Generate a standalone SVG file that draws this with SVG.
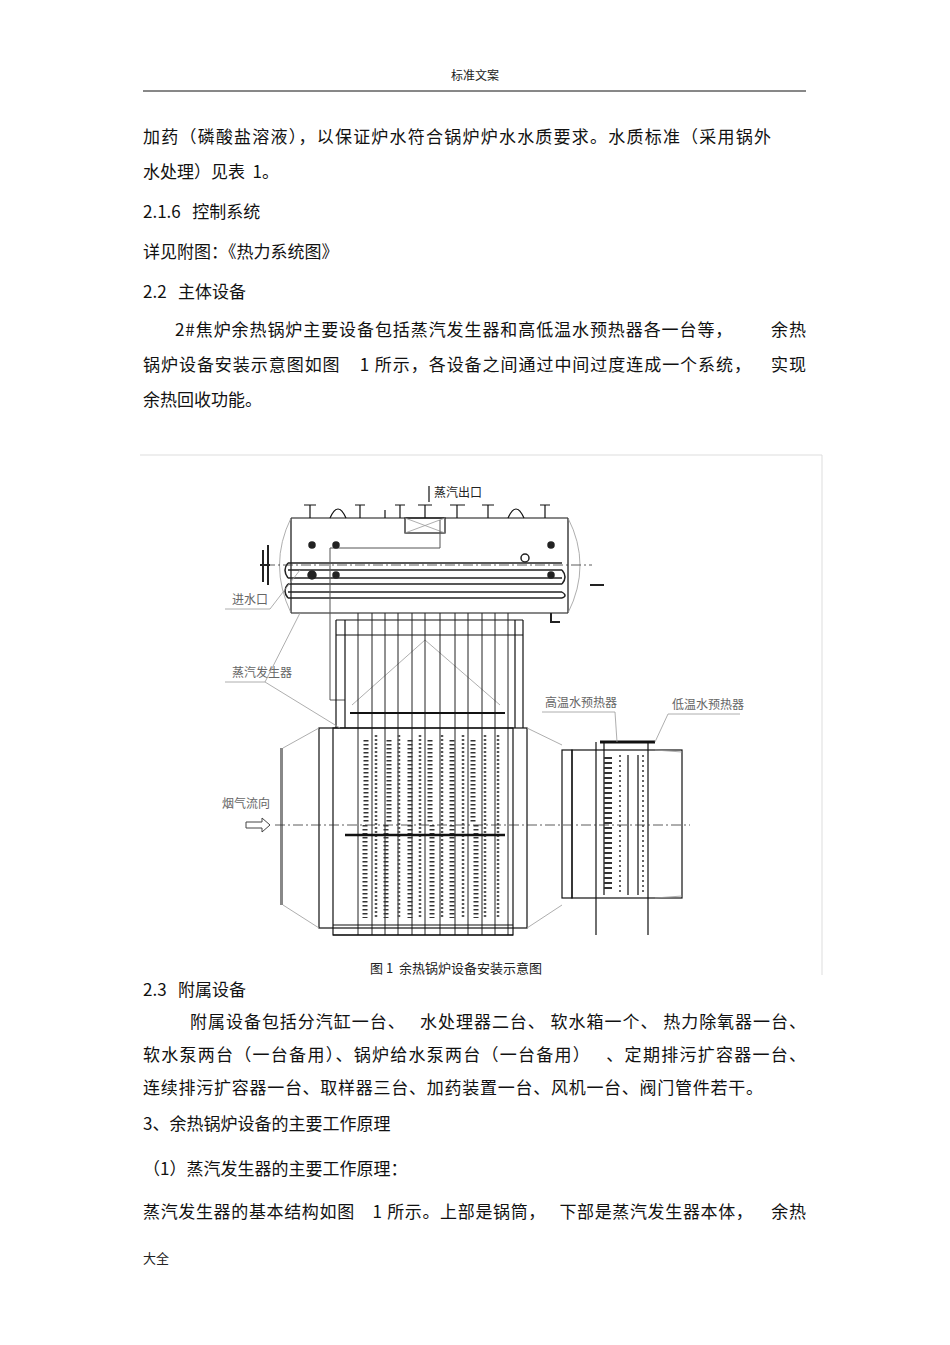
<svg xmlns="http://www.w3.org/2000/svg" width="950" height="1345" viewBox="0 0 950 1345" xml:space="preserve">
<style>
.t{font-family:"Noto Sans CJK SC","Liberation Sans",sans-serif;font-size:17px;fill:#111;white-space:pre}
.s{font-family:"Noto Sans CJK SC",sans-serif;fill:#222;white-space:pre}
.l{font-family:"Noto Sans CJK SC",sans-serif;font-size:12px;fill:#666}
.k{stroke:#111;fill:none;stroke-width:1.2}
.g{stroke:#999;fill:none;stroke-width:0.8}
.c{stroke:#333;fill:none;stroke-width:0.8;stroke-dasharray:10 3 2 3}
.tb{stroke:#222;fill:none;stroke-width:1.5}
.coil{stroke:#333;fill:none;stroke-width:5;stroke-dasharray:1.5 2.5}
</style>
<rect width="950" height="1345" fill="#fff"/>
<g id="header">
<text class="s" x="475" y="80" font-size="12" text-anchor="middle">标准文案</text>
<line x1="143" y1="91" x2="806" y2="91" stroke="#111" stroke-width="1"/>
</g>
<g id="body-top">
<text class="t" x="143" y="143" textLength="628" lengthAdjust="spacing">加药（磷酸盐溶液），以保证炉水符合锅炉炉水水质要求。水质标准（采用锅外</text>
<text class="t" x="143" y="178">水处理）见表  1。</text>
<text class="t" x="143" y="218">2.1.6   控制系统</text>
<text class="t" x="143" y="258">详见附图：《热力系统图》</text>
<text class="t" x="143" y="298">2.2   主体设备</text>
<text class="t" x="175" y="336" textLength="631" lengthAdjust="spacing">2#焦炉余热锅炉主要设备包括蒸汽发生器和高低温水预热器各一台等，        余热</text>
<text class="t" x="143" y="371" textLength="663" lengthAdjust="spacing">锅炉设备安装示意图如图    1 所示，各设备之间通过中间过度连成一个系统，    实现</text>
<text class="t" x="143" y="406">余热回收功能。</text>
</g>
<g id="frame">
<path d="M140 455 H822 V975" stroke="#ddd" fill="none"/>
</g>
<g id="drum">
<path class="k" d="M291 518 H568 M291 613 H568 M291 518 V613 M568 518 V613"/>
<path class="g" d="M291 518 Q268 565 291 613 M568 518 Q592 565 568 613"/>
<rect class="k" x="405" y="518" width="40" height="15"/>
<path class="g" d="M405 518 L445 533 M445 518 L405 533"/>
<g class="k">
<path d="M310 518 V505 M304 505 H316 M330 518 Q338 500 346 518 M360 518 V505 M355 505 H365 M385 518 V510 M400 518 V505 M395 505 H405 M425 518 V505 M418 505 H432 M457 518 V505 M450 505 H465 M488 518 V505 M482 505 H494 M508 518 Q516 500 524 518 M545 518 V505 M540 505 H550"/>
</g>
<path d="M429 502 V486" stroke="#111" stroke-width="1.2"/>
<text class="s" x="434" y="497" font-size="12">蒸汽出口</text>
<g class="tb">
<path d="M288 563 H562 M288 570 H562 M288 578 H562 M288 584 H562 M288 592 H562 M288 598 H562"/>
<path d="M288 563 Q282 570 288 578 M288 584 Q282 591 288 598 M562 570 Q568 577 562 584 M562 592 Q568 596 562 598"/>
</g>
<path d="M440 520 V548 M440 548 H330 M330 548 V700 M330 700 H345" stroke="#555" fill="none"/>
<path class="c" d="M265 565 H592"/>
<g stroke="#222" stroke-width="1.5">
<circle cx="312" cy="545" r="3" fill="#222"/><circle cx="336" cy="545" r="3" fill="#222"/>
<circle cx="312" cy="575" r="4" fill="#222"/><circle cx="336" cy="575" r="3" fill="#222"/>
<circle cx="551" cy="545" r="3" fill="#222"/><circle cx="551" cy="575" r="3" fill="#222"/>
<circle cx="525" cy="558" r="4" fill="none"/>
</g>
<path d="M263 550 V582 M268 545 V585 M260 565 H270 M590 585 H604 M551 613 V622 H560" stroke="#222" stroke-width="2" fill="none"/>
</g>
<g id="riser">
<path class="k" d="M336 620 V728 M345 620 V728 M515 620 V728 M523 620 V728 M336 620 H523 M336 635 H523"/>
<path class="g" d="M352 705 L425 640 L500 705"/>
<g stroke="#222" stroke-width="1">
<path d="M358 613 V935 M372 613 V935 M385 613 V935 M398 613 V935 M412 613 V935 M425 613 V935 M440 613 V935 M455 613 V935 M468 613 V935 M482 613 V935 M495 613 V935 M508 613 V935"/>
</g>
<path d="M350 713 H505" stroke="#111" stroke-width="2"/>
</g>
<g id="generator">
<rect class="k" x="319" y="728" width="208" height="200"/>
<rect class="k" x="333" y="728" width="180" height="207"/>
<path class="k" d="M333 925 H513 M333 935 H513"/>
<path class="g" d="M319 728 L283 748 M319 928 L283 905"/>
<rect x="280" y="748" width="3" height="157" fill="#888"/>
<path class="g" d="M527 728 L562 745 M527 928 L562 905"/>
<g class="coil">
<path d="M366 740 V822 M389 740 V822 M410 740 V822 M430 740 V822 M452 740 V822 M473 740 V822 M365 825 V918 M386 825 V918 M410 825 V918 M432 825 V918 M452 825 V918 M476 825 V918"/>
</g>
<g stroke="#555" stroke-width="2.5" stroke-dasharray="2 2">
<path d="M376 735 V918 M399 735 V918 M420 735 V918 M442 735 V918 M463 735 V918 M485 735 V918 M498 735 V918"/>
</g>
<path d="M345 835 H505" stroke="#111" stroke-width="2.5"/>
</g>
<g id="preheater">
<rect class="k" x="562" y="750" width="10" height="148"/>
<rect class="k" x="572" y="750" width="110" height="148"/>
<path class="g" d="M655 750 L682 752 M655 898 L682 896"/>
<path d="M600 742 H655" stroke="#111" stroke-width="3"/>
<g class="k"><path d="M596 742 V935 M604 742 V895 M628 755 V895 M638 755 V895 M648 742 V935"/></g>
<path d="M608 757 V892" stroke="#333" stroke-width="8" stroke-dasharray="2 3" fill="none"/>
<g stroke="#333" stroke-width="1.5" stroke-dasharray="2 3"><path d="M620 755 V892 M643 755 V892"/></g>
</g>
<g id="centerline"><path class="c" d="M275 825 H690"/></g>
<g id="labels">
<text class="l" x="232" y="604">进水口</text>
<path class="g" d="M225 609 H270 L300 570"/>
<text class="l" x="232" y="677">蒸汽发生器</text>
<path class="g" d="M225 682 H265 L300 613 M265 682 L340 728"/>
<text class="l" x="222" y="808">烟气流向</text>
<path d="M246 822 H262 V818 L270 825 L262 832 V828 H246 Z" fill="none" stroke="#444"/>
<text class="l" x="545" y="707">高温水预热器</text>
<path class="g" d="M542 712 H615 L617 742"/>
<text class="l" x="672" y="709">低温水预热器</text>
<path class="g" d="M668 714 H740 M668 714 L655 742"/>
<text class="s" x="370" y="973" font-size="13">图 1  余热锅炉设备安装示意图</text>
</g>
<g id="body-bottom">
<text class="t" x="143" y="996">2.3   附属设备</text>
<text class="t" x="190" y="1028" textLength="616" lengthAdjust="spacing">附属设备包括分汽缸一台、   水处理器二台、 软水箱一个、 热力除氧器一台、</text>
<text class="t" x="143" y="1061" textLength="663" lengthAdjust="spacing">软水泵两台（一台备用）、锅炉给水泵两台（一台备用）   、定期排污扩容器一台、</text>
<text class="t" x="143" y="1094" textLength="620" lengthAdjust="spacing">连续排污扩容器一台、取样器三台、加药装置一台、风机一台、阀门管件若干。</text>
<text class="t" x="143" y="1130">3、余热锅炉设备的主要工作原理</text>
<text class="t" x="143" y="1175">（1）蒸汽发生器的主要工作原理：</text>
<text class="t" x="143" y="1218" textLength="663" lengthAdjust="spacing">蒸汽发生器的基本结构如图    1 所示。上部是锅筒，   下部是蒸汽发生器本体，    余热</text>
<text class="s" x="143" y="1263" font-size="13">大全</text>
</g>
</svg>
